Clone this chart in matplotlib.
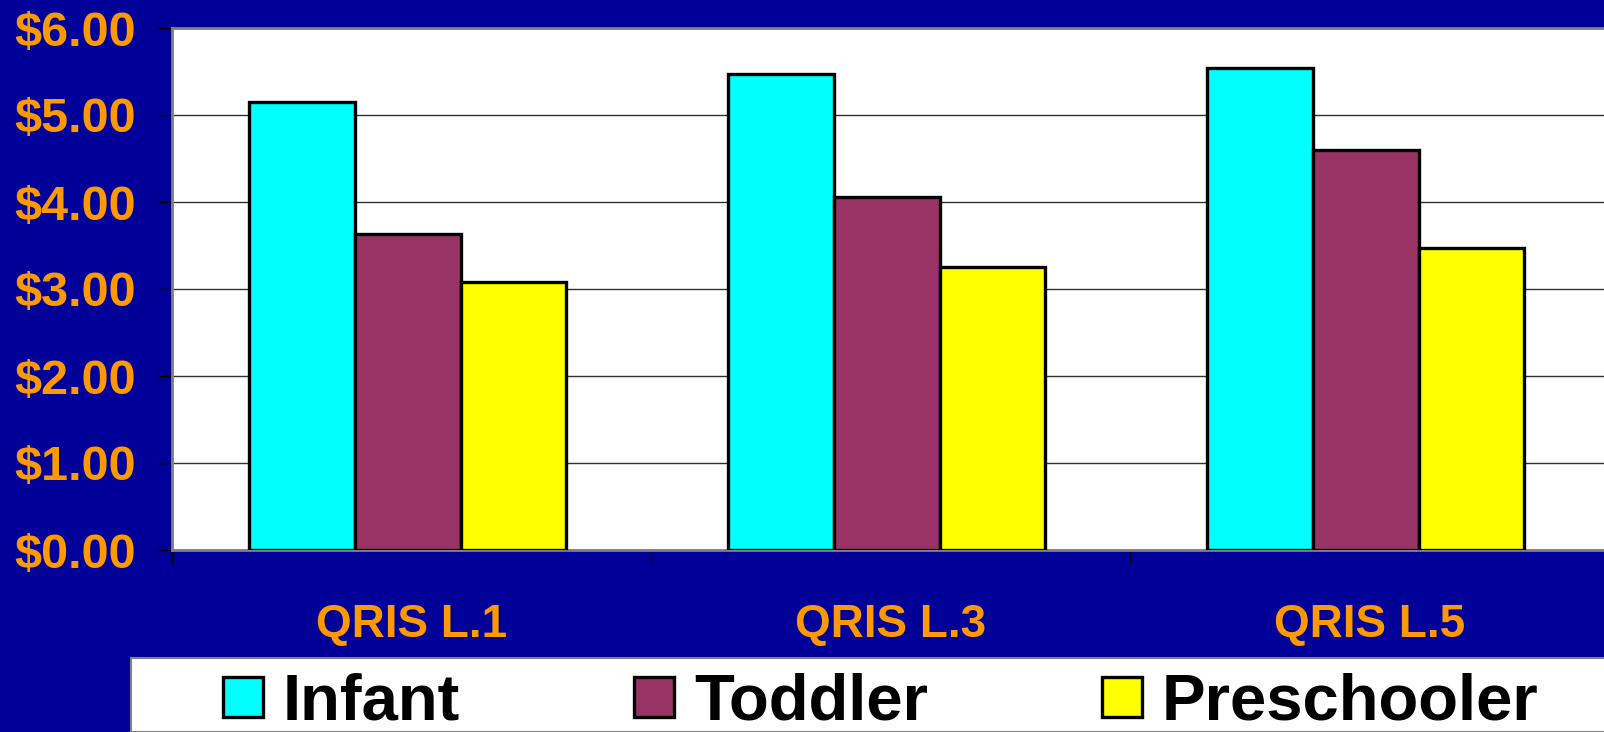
import matplotlib
matplotlib.use("Agg")
import matplotlib.pyplot as plt
from matplotlib.patches import Rectangle
import numpy as np

# data
categories = ["QRIS L.1", "QRIS L.3", "QRIS L.5"]
series = ["Infant", "Toddler", "Preschooler"]
infant = [5.15, 5.47, 5.54]
toddler = [3.63, 4.06, 4.60]
preschooler = [3.08, 3.25, 3.47]
yticks = [0, 1, 2, 3, 4, 5, 6]

colors = ["#00FFFF", "#993366", "#FFFF00"]
bg = "#000099"
orange = "#FF9900"

W, H = 1604, 732
fig = plt.figure(figsize=(W / 100, H / 100), dpi=100, facecolor=bg)
plt.rcParams["font.family"] = ["Liberation Sans", "DejaVu Sans"]

# axes box in pixels: left 172, top 28, bottom 550, right runs past the edge
left, top, bottom, right = 172, 28, 550, 1609
ax = fig.add_axes([left / W, (H - bottom) / H, (right - left) / W, (bottom - top) / H])
ax.set_facecolor("white")

x = np.arange(len(categories))
w = 0.221
bars = []
for i, (vals, c) in enumerate(zip([infant, toddler, preschooler], colors)):
    b = ax.bar(x - 0.008 + (i - 1) * w, vals, w, color=c, edgecolor="black", linewidth=2.4, zorder=3)
    bars.append(b)

ax.set_xlim(-0.5, len(categories) - 0.5)
ax.set_ylim(0, 6)
ax.set_yticks(yticks)
ax.set_yticklabels([f"${v:.2f}" for v in yticks])
ax.yaxis.grid(True, color="#303030", linewidth=1.0, zorder=0)
ax.set_axisbelow(True)

ax.set_xticks(x)
ax.set_xticklabels(categories)
ax.set_xticks(np.arange(-0.5, len(categories), 1.0), minor=True)
ax.tick_params(axis="x", which="major", length=0, pad=38, labelsize=33, labelcolor=orange)
ax.tick_params(axis="x", which="minor", length=10, width=1, color="black", direction="out")
ax.tick_params(axis="y", length=10, width=1, color="black", pad=16, labelsize=35, labelcolor=orange)
for lab in ax.get_xticklabels() + ax.get_yticklabels():
    lab.set_fontweight("bold")

for s in ["top", "left", "bottom"]:
    ax.spines[s].set_color("#808080")
    ax.spines[s].set_linewidth(2)
ax.spines["right"].set_visible(False)

# legend box at the bottom
fig.patches.append(Rectangle((131 / W, 0), 1 - 131 / W + 0.01, (H - 658) / H,
                             transform=fig.transFigure, facecolor="white",
                             edgecolor="#808080", linewidth=1.5, zorder=0))
leg = fig.legend([b[0] for b in bars], series, loc="center left",
                 bbox_to_anchor=(223 / W, (H - 703) / H), ncol=3, frameon=False,
                 prop={"weight": "bold", "size": 47},
                 handlelength=0.62, handleheight=0.55, handletextpad=0.3,
                 columnspacing=2.66, borderpad=0, borderaxespad=0)
for p in leg.get_patches():
    p.set_linewidth(2.4)

fig.savefig("out.png", dpi=100, facecolor=bg)
